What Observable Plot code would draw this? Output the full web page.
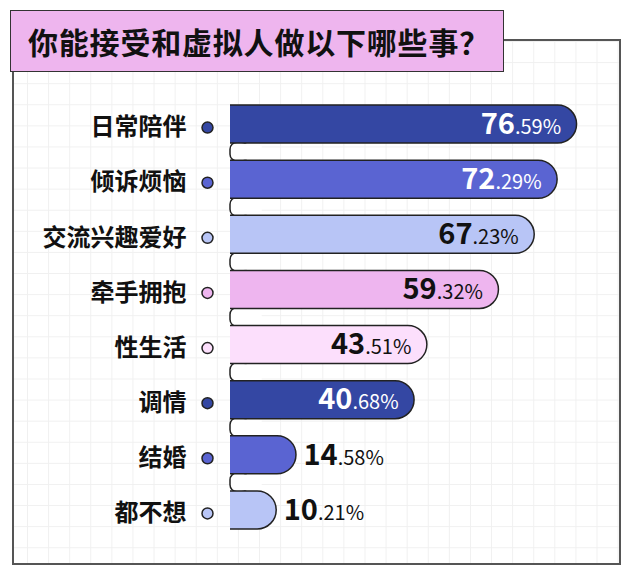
<!DOCTYPE html>
<html>
<head>
<meta charset="utf-8">
<script src="https://cdn.jsdelivr.net/npm/d3@7"></script>
<script src="https://cdn.jsdelivr.net/npm/@observablehq/plot@0.6"></script>
<style>
  html, body { margin: 0; padding: 0; background: #fff; }
  body { font-family: "Noto Sans CJK SC", "Noto Sans", sans-serif; }
  #wrap { position: relative; width: 629px; height: 571px; overflow: hidden; }
  #panel {
    position: absolute; left: 12px; top: 39px; width: 609px; height: 526px;
    box-sizing: border-box; border: 2px solid #555;
    background-color: #fff;
    background-image:
      linear-gradient(#f0f0f0 1px, transparent 1px),
      linear-gradient(90deg, #f0f0f0 1px, transparent 1px);
    background-size: 21.1px 21.1px;
    background-position: 13px 0px;
  }
  #title {
    position: absolute; left: 10px; top: 10px; width: 494px; height: 62px;
    box-sizing: border-box; border: 1.5px solid #333; background: #EEB5EE;
    display: flex; align-items: center; padding-left: 17px;
    font-size: 30px; font-weight: 700; letter-spacing: 0.8px; color: #111;
    z-index: 3;
  }
  #chart { position: absolute; left: 0; top: 0; z-index: 2; }
</style>
</head>
<body>
<div id="wrap">
  <div id="panel"></div>
  <div id="title">你能接受和虚拟人做以下哪些事？</div>
  <div id="chart"></div>
</div>
<script>
const categories = ["日常陪伴", "倾诉烦恼", "交流兴趣爱好", "牵手拥抱", "性生活", "调情", "结婚", "都不想"];
const values = [76.59, 72.29, 67.23, 59.32, 43.51, 40.68, 14.58, 10.21];
const colors = ["#3447A3", "#5A64D2", "#B8C5F6", "#EEB5EF", "#FCDFFC", "#3447A3", "#5A64D2", "#B8C5F6"];
const labelColors = ["#ffffff", "#ffffff", "#111111", "#111111", "#111111", "#ffffff", "#111111", "#111111"];

const data = categories.map((name, i) => ({
  name, value: values[i], color: colors[i], labelColor: labelColors[i],
  text: values[i].toFixed(2) + "%"
}));
const inside = data.filter(d => d.value > 30);
const outside = data.filter(d => d.value <= 30);
const gaps = data.slice(0, data.length - 1);

const STROKE = "#222";
const FONT = "Noto Sans CJK SC, Noto Sans, sans-serif";

const chart = Plot.plot({
  width: 629,
  height: 571,
  marginLeft: 230,
  marginRight: 37,
  marginTop: 88,
  marginBottom: 25,
  style: { background: "transparent", fontFamily: FONT, overflow: "visible" },
  x: { domain: [0, 80], axis: null },
  y: { domain: categories, padding: 0.31, round: false, axis: null },
  color: { type: "identity" },
  marks: [
    // rounded notches between bars
    Plot.barX(gaps, { y: "name", x1: 0, x2: 4, dy: 27.57, insetTop: 9.5, insetBottom: 9.5, rx: 7,
      fill: "#fff", stroke: STROKE, strokeWidth: 1.5 }),
    Plot.barX(gaps, { y: "name", x1: 2, x2: 7, dy: 27.57, insetTop: 11, insetBottom: 11,
      fill: "#fff" }),
    // pill bars (left side clipped at the spine)
    Plot.barX(data, { y: "name", x1: -10, x2: "value", fill: "color", stroke: STROKE, strokeWidth: 1.5,
      rx: 19, clip: true }),
    // spine
    Plot.ruleX([0], { y1: categories[0], y2: categories[categories.length - 1], stroke: STROKE, strokeWidth: 1.5 }),
    // dotted connector
    Plot.ruleX([0], { y1: categories[0], y2: categories[categories.length - 1], dx: -23, dy: 3,
      insetTop: 19, insetBottom: 19, stroke: "#c9bfae", strokeWidth: 1.2, strokeDasharray: "1.5,2.5" }),
    Plot.dot(data, { y: "name", frameAnchor: "left", dx: -23, dy: 3, r: 5.5, fill: "color", stroke: STROKE, strokeWidth: 1.5 }),
    // category labels
    Plot.text(data, { y: "name", text: "name", frameAnchor: "left", dx: -44, dy: 3, textAnchor: "end",
      fontSize: 24, fontWeight: 700, fill: "#111", fontFamily: FONT }),
    // value labels
    Plot.text(inside, { x: "value", y: "name", text: "text", textAnchor: "end", dx: -16,
      fontSize: 29, fontWeight: 700, fill: "labelColor", fontFamily: FONT }),
    Plot.text(outside, { x: "value", y: "name", text: "text", textAnchor: "start", dx: 7,
      fontSize: 29, fontWeight: 700, fill: "labelColor", fontFamily: FONT })
  ]
});

document.getElementById("chart").appendChild(chart);

// split value labels into a bold integer part and a smaller decimal part
d3.select(chart).selectAll("text").each(function () {
  const t = this.textContent;
  if (!/^\d+\.\d+%$/.test(t)) return;
  const k = t.indexOf(".");
  const sel = d3.select(this);
  sel.text(null);
  sel.append("tspan").attr("font-weight", 700).attr("font-size", 29).text(t.slice(0, k));
  sel.append("tspan").attr("font-weight", 400).attr("font-size", 20).text(t.slice(k));
});
</script>
</body>
</html>
